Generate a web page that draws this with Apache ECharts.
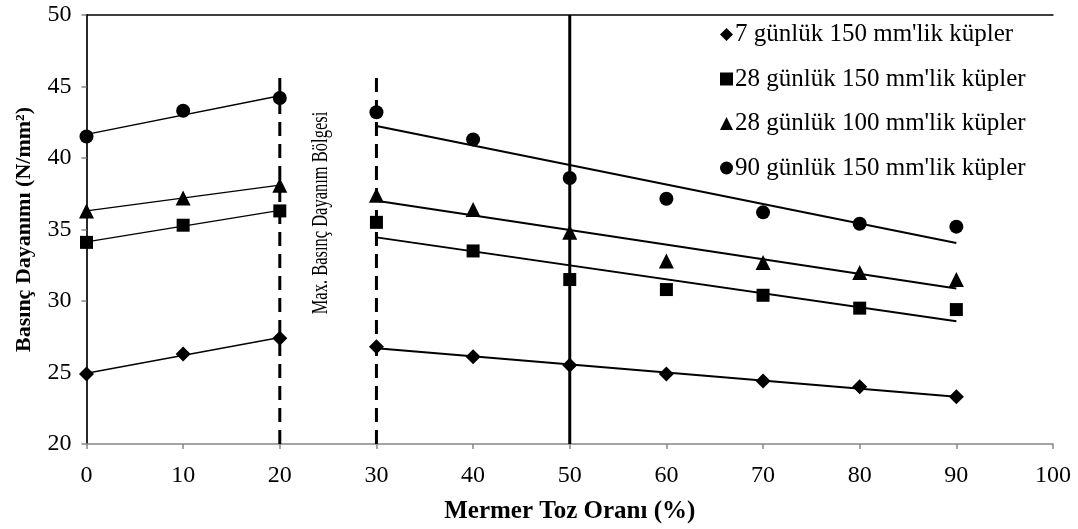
<!DOCTYPE html>
<html><head><meta charset="utf-8">
<script src="https://cdn.jsdelivr.net/npm/echarts@6/dist/echarts.min.js"></script>
<style>html,body{margin:0;padding:0;background:#fff}#c{width:1078px;height:529px}</style>
</head><body><div id="c"></div>
<script>
// ---- data ----
const xValues = [0, 10, 20, 30, 40, 50, 60, 70, 80, 90];
const seriesNames = ["7 günlük 150 mm'lik küpler", "28 günlük 150 mm'lik küpler", "28 günlük 100 mm'lik küpler", "90 günlük 150 mm'lik küpler"];
const d7_150  = [24.9, 26.3, 27.4, 26.8, 26.1, 25.5, 24.9, 24.4, 24.0, 23.3];
const d28_150 = [34.1, 35.3, 36.3, 35.5, 33.5, 31.5, 30.8, 30.4, 29.5, 29.4];
const d28_100 = [36.3, 37.2, 38.1, 37.4, 36.4, 34.8, 32.8, 32.7, 32.0, 31.5];
const d90_150 = [41.5, 43.3, 44.2, 43.2, 41.3, 38.6, 37.15, 36.2, 35.4, 35.2];
const segLow = [0, 3];    // index range (start, end-exclusive) of left trend segment
const segHigh = [3, 10];  // index range of right trend segment
const dashedLineX = [20, 30];
const dashedLineTop = 45.7;
const solidLineX = 50;
const annotationText = 'Max. Basınç Dayanım Bölgesi';
const annotationAt = [24.25, 36.15];
const xTitle = 'Mermer Toz Oranı (%)';
const yTitle = 'Basınç Dayanımı (N/mm²)';

// ---- helpers ----
function trend(vals, range) {
  const xs = xValues.slice(range[0], range[1]);
  const ys = vals.slice(range[0], range[1]);
  const n = xs.length;
  const mx = xs.reduce((a, b) => a + b, 0) / n;
  const my = ys.reduce((a, b) => a + b, 0) / n;
  let sxy = 0, sxx = 0;
  for (let i = 0; i < n; i++) { sxy += (xs[i] - mx) * (ys[i] - my); sxx += (xs[i] - mx) ** 2; }
  const b = sxy / sxx, a = my - b * mx;
  return [[xs[0], a + b * xs[0]], [xs[n - 1], a + b * xs[n - 1]]];
}
const FONT = 'Liberation Serif, Times New Roman, serif';
const allData = [d7_150, d28_150, d28_100, d90_150];
const symbols = ['diamond', 'rect', 'triangle', 'circle'];
const sizes = [15, 13, 15, 14];

const series = [];
// vertical reference lines
dashedLineX.forEach(x => series.push({
  type: 'line', data: [[x, 20], [x, dashedLineTop]], symbol: 'none', silent: true, z: 1,
  lineStyle: { color: '#000', width: 3, type: [14, 8] }
}));
series.push({
  type: 'line', data: [[solidLineX, 20], [solidLineX, 50]], symbol: 'none', silent: true, z: 1,
  lineStyle: { color: '#000', width: 3 }
});
// trend lines
allData.forEach(vals => {
  series.push({ type: 'line', data: trend(vals, segLow), symbol: 'none', silent: true, z: 2,
    lineStyle: { color: '#000', width: 1.4 } });
  series.push({ type: 'line', data: trend(vals, segHigh), symbol: 'none', silent: true, z: 2,
    lineStyle: { color: '#000', width: 2 } });
});
// markers
allData.forEach((vals, i) => {
  series.push({
    name: seriesNames[i], type: 'scatter', symbol: symbols[i], symbolSize: sizes[i], z: 5,
    itemStyle: { color: '#000', opacity: 1 },
    data: xValues.map((x, j) => [x, vals[j]])
  });
});

const chart = echarts.init(document.getElementById('c'), null, { renderer: 'canvas' });
const option = {
  animation: false,
  backgroundColor: '#fff',
  grid: { left: 86.5, right: 25, top: 15, bottom: 84, containLabel: false },
  legend: {
    orient: 'vertical', left: 715, top: 17, itemGap: 19.5, itemWidth: 13, itemHeight: 13,
    data: seriesNames.map((n, i) => ({ name: n, icon: symbols[i] })),
    textStyle: { fontFamily: FONT, fontSize: 25, color: '#000', padding: [0, 0, 0, -3] },
    itemStyle: { color: '#000' }
  },
  xAxis: [{
    type: 'value', min: 0, max: 100, interval: 10,
    name: xTitle, nameLocation: 'middle', nameGap: 55,
    nameTextStyle: { fontFamily: FONT, fontSize: 25, fontWeight: 'bold', color: '#000' },
    axisLine: { show: true, onZero: false, lineStyle: { color: '#868686', width: 1.5 } },
    axisTick: { show: true, length: 5, lineStyle: { color: '#868686', width: 1.5 } },
    axisLabel: { fontFamily: FONT, fontSize: 24, color: '#000', margin: 20 },
    splitLine: { show: false }
  }, {
    type: 'value', min: 0, max: 100, position: 'top',
    axisLine: { show: true, lineStyle: { color: '#000', width: 1.5 } },
    axisTick: { show: false }, axisLabel: { show: false }, splitLine: { show: false }
  }],
  yAxis: [{
    type: 'value', min: 20, max: 50, interval: 5,
    name: yTitle, nameLocation: 'middle', nameGap: 51, nameRotate: 90,
    nameTextStyle: { fontFamily: FONT, fontSize: 22, fontWeight: 'bold', color: '#000' },
    axisLine: { show: true, onZero: false, lineStyle: { color: '#868686', width: 1.5 } },
    axisTick: { show: true, length: 5, lineStyle: { color: '#868686', width: 1.5 } },
    axisLabel: { fontFamily: FONT, fontSize: 24, color: '#000', margin: 15 },
    splitLine: { show: false }
  }, {
    type: 'value', min: 20, max: 50, position: 'right',
    axisLine: { show: true, lineStyle: { color: '#000', width: 1.5 } },
    axisTick: { show: false }, axisLabel: { show: false }, splitLine: { show: false }
  }],
  series: series
};
chart.setOption(option);
const p = chart.convertToPixel({ xAxisIndex: 0, yAxisIndex: 0 }, annotationAt);
chart.setOption({
  graphic: [{
    type: 'text', x: p[0], y: p[1], rotation: Math.PI / 2, scaleY: 1.4, z: 10,
    style: { text: annotationText, fontFamily: FONT, fontSize: 16.5, fill: '#000',
      align: 'center', verticalAlign: 'middle' }
  }]
});
</script></body></html>
